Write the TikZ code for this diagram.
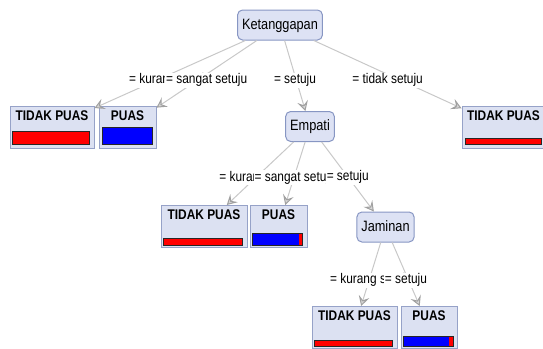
\documentclass[tikz,border=0pt]{standalone}
\usepackage{fontspec}
\setmainfont[FakeStretch=0.85]{Liberation Sans}
\usepackage{xcolor}
\usepackage{tikz}
\usetikzlibrary{arrows.meta}

\definecolor{nodefill}{RGB}{221,226,244}
\definecolor{nodeline}{RGB}{135,150,195}
\definecolor{leaffill}{RGB}{220,225,242}
\definecolor{leafline}{RGB}{150,162,200}
\definecolor{edgegray}{RGB}{200,200,200}
\definecolor{arrowgray}{RGB}{160,160,160}
\definecolor{arrowfill}{RGB}{215,215,215}

\tikzset{
	inner/.style={rectangle, rounded corners=5pt, draw=nodeline, fill=nodefill, line width=1pt,
		minimum height=30pt, inner xsep=4.5pt, text height=11pt, text depth=3pt,
		font=\fontsize{15}{17}\selectfont},
	leaf/.style={rectangle, draw=leafline, fill=leaffill, line width=1pt,
		inner xsep=3pt, inner ysep=4pt, text height=10pt, text depth=24pt,
		font=\fontsize{14}{16}\selectfont\bfseries},
	edge/.style={draw=edgegray, line width=1pt,
		-{Stealth[color=arrowgray, fill=arrowfill, length=10pt, width=11pt, inset=4pt, line width=1pt]}},
	elabel/.style={midway, fill=white, inner sep=1pt, yshift=-6pt,
		font=\fontsize{14}{15}\selectfont},
	bar/.style={draw=black!85, line width=0.8pt}
}

\begin{document}
\begin{tikzpicture}[x=1pt,y=-1pt]
	\useasboundingbox (0,0) rectangle (543,348);

	\node[inner] (ketanggapan) at (280,25) {Ketanggapan};
	\node[inner] (empati) at (310,126.5) {Empati};
	\node[inner] (jaminan) at (385.5,227) {Jaminan};

	\node[leaf, minimum width=84pt] (tidakpuasA) at (52,127) {TIDAK PUAS};
	\node[leaf, minimum width=57pt] (puasA) at (127.5,127) {PUAS};
	\node[leaf, minimum width=83pt] (tidakpuasB) at (503.5,127.5) {TIDAK PUAS};
	\node[leaf, minimum width=86pt] (tidakpuasC) at (204,226.5) {TIDAK PUAS};
	\node[leaf, minimum width=57pt] (puasC) at (278.5,226.5) {PUAS};
	\node[leaf, minimum width=85pt] (tidakpuasD) at (354.5,327.5) {TIDAK PUAS};
	\node[leaf, minimum width=56pt] (puasD) at (429,327.5) {PUAS};

	\filldraw[bar, fill=red] ([xshift=3pt,yshift=4pt]tidakpuasA.south west) rectangle ([xshift=-5pt,yshift=17pt]tidakpuasA.south east);
	\filldraw[bar, fill=blue] ([xshift=4pt,yshift=4pt]puasA.south west) rectangle ([xshift=-4pt,yshift=21pt]puasA.south east);
	\filldraw[bar, fill=red] ([xshift=4pt,yshift=5pt]tidakpuasB.south west) rectangle ([xshift=-4pt,yshift=11pt]tidakpuasB.south east);
	\filldraw[bar, fill=red] ([xshift=3pt,yshift=3pt]tidakpuasC.south west) rectangle ([xshift=-5pt,yshift=10pt]tidakpuasC.south east);
	\fill[blue] ([xshift=3pt,yshift=3pt]puasC.south west) rectangle ([xshift=-9pt,yshift=15pt]puasC.south east);
	\fill[red] ([xshift=-9pt,yshift=3pt]puasC.south east) rectangle ([xshift=-5pt,yshift=15pt]puasC.south east);
	\draw[bar] ([xshift=3pt,yshift=3pt]puasC.south west) rectangle ([xshift=-5pt,yshift=15pt]puasC.south east);
	\filldraw[bar, fill=red] ([xshift=3pt,yshift=3pt]tidakpuasD.south west) rectangle ([xshift=-5pt,yshift=9pt]tidakpuasD.south east);
	\fill[blue] ([xshift=3pt,yshift=3pt]puasD.south west) rectangle ([xshift=-9pt,yshift=13pt]puasD.south east);
	\fill[red] ([xshift=-9pt,yshift=3pt]puasD.south east) rectangle ([xshift=-4pt,yshift=13pt]puasD.south east);
	\draw[bar] ([xshift=3pt,yshift=3pt]puasD.south west) rectangle ([xshift=-4pt,yshift=13pt]puasD.south east);

	\draw[edge] (ketanggapan) -- node[elabel] {= kurang setuju} (tidakpuasA);
	\draw[edge] (ketanggapan) -- node[elabel] {= sangat setuju} (puasA);
	\draw[edge] (ketanggapan) -- node[elabel, yshift=1.5pt] {= setuju} (empati);
	\draw[edge] (ketanggapan) -- node[elabel] {= tidak setuju} (tidakpuasB);

	\draw[edge] (empati) -- node[elabel, yshift=2pt] {= kurang setuju} (tidakpuasC);
	\draw[edge] (empati) -- node[elabel, yshift=2pt] {= sangat setuju} (puasC);
	\draw[edge] (empati) -- node[elabel, yshift=5.5pt] {= setuju} (jaminan);

	\draw[edge] (jaminan) -- node[elabel] {= kurang setuju} (tidakpuasD);
	\draw[edge] (jaminan) -- node[elabel] {= setuju} (puasD);
\end{tikzpicture}
\end{document}
